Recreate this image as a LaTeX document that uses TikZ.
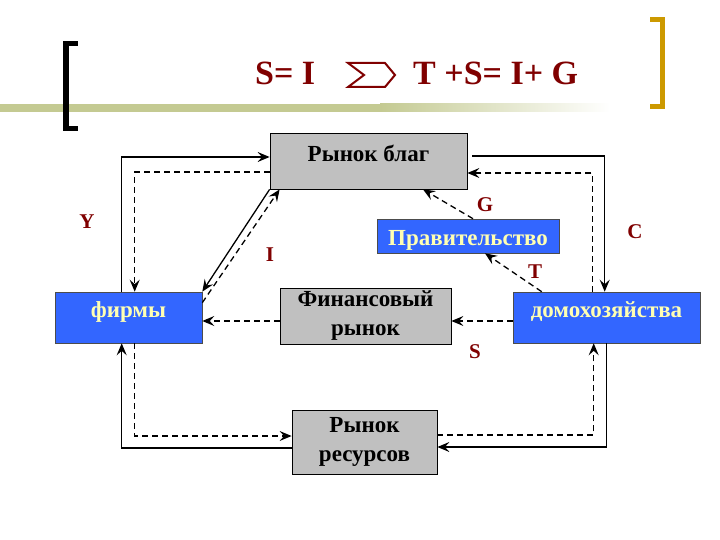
\documentclass[tikz,border=0pt]{standalone}
\usepackage{fontspec}
\setmainfont{Liberation Serif}
\usepackage{xcolor}
\usepackage{tikz}
\usetikzlibrary{arrows.meta}
\definecolor{CFBlue}{HTML}{3366FF}
\definecolor{CFGrey}{HTML}{C0C0C0}
\definecolor{CFRed}{HTML}{800000}
\definecolor{CFText}{HTML}{FFFFB3}
\definecolor{CFGold}{HTML}{CC9900}
\definecolor{CFOlive}{HTML}{C4CA92}
\tikzset{
  market/.style={draw=black,line width=.8pt,fill=CFGrey,inner sep=0pt,align=center,
    font=\fontsize{23}{29}\selectfont\bfseries},
  agent/.style={draw=black!70,line width=.6pt,fill=CFBlue,text=CFText,inner sep=0pt,
    font=\fontsize{23}{29}\selectfont\bfseries},
  real/.style={line width=1.3pt,-{Stealth[length=12pt,width=10pt,inset=4.5pt]}},
  money/.style={real,dash pattern=on 6pt off 4pt},
  flowlabel/.style={text=CFRed,font=\fontsize{21}{24}\selectfont\bfseries},
  titletext/.style={text=CFRed,inner sep=0pt,font=\fontsize{34}{36}\selectfont\bfseries}
}

\begin{document}
\begin{tikzpicture}[x=1pt,y=-1pt]
\path[use as bounding box] (0,0) rectangle (720,540);
\fill[white] (0,0) rectangle (720,540);
\fill[CFOlive] (0,104) rectangle (380,112);
\shade[left color=CFOlive,right color=white] (380,104) rectangle (610,112);
\fill[black] (63,41) rectangle (69,131);
\fill[black] (63,41) rectangle (78,46);
\fill[black] (63,126) rectangle (78,131);
\fill[CFGold] (660,17) rectangle (665,109);
\fill[CFGold] (650,17) rectangle (665,22);
\fill[CFGold] (650,104) rectangle (665,109);
\node[titletext,anchor=base west] (lhs) at (255,85) {S= I};
\draw[CFRed,line width=2pt,line join=miter] (348,63) -- (385,63) -- (395,75) -- (385,87) -- (348,87) -- (364,75) -- cycle;
\node[titletext,anchor=base west] (rhs) at (413,85) {T +S= I+ G};
\node[market,minimum width=197pt,minimum height=56pt,text height=16pt,text depth=14pt] (goods) at (368.5,161) {Рынок благ};
\node[agent,minimum width=182pt,minimum height=34pt,text height=18pt,text depth=0pt] (gov) at (468,236) {Правительство};
\node[agent,minimum width=147pt,minimum height=51pt,text height=16pt,text depth=17pt] (firm) at (128.5,317.5) {фирмы};
\node[agent,minimum width=187pt,minimum height=51pt,text height=16pt,text depth=17pt] (house) at (606.5,317.5) {домохозяйства};
\node[market,minimum width=171pt,minimum height=56pt] (fin) at (365.5,316) {Финансовый\\рынок};
\node[market,minimum width=145pt,minimum height=64pt] (res) at (364.5,442) {Рынок\\ресурсов};
\draw[real] ([xshift=67pt]firm.north west) |- ([yshift=4pt]goods.west);
\draw[money] ([yshift=-11pt]goods.west) -| ([xshift=80pt]firm.north west);
\draw[real] ([yshift=-6pt]res.west) -| ([xshift=67pt]firm.south west);
\draw[money] ([xshift=80pt]firm.south west) |- ([yshift=6pt]res.west);
\draw[real] ([xshift=5pt,yshift=5pt]goods.east) -| ([xshift=92pt]house.north west);
\draw[money] ([xshift=80pt]house.north west) |- ([yshift=-12pt]goods.east);
\draw[real] ([xshift=94pt]house.south west) |- ([yshift=-5pt]res.east);
\draw[money] ([yshift=7pt]res.east) -| ([xshift=81pt]house.south west);
\draw[real] (goods.south west) -- (firm.north east);
\draw[money] ([yshift=-11pt]firm.north east) -- ([xshift=10pt]goods.south west);
\draw[money] ([yshift=-5pt]fin.west) -- ([yshift=-5pt]fin.west -| firm.east);
\draw[money] ([yshift=-3.5pt]house.west) -- ([yshift=-3.5pt]house.west -| fin.east);
\draw[money] ([xshift=5pt]gov.north) -- ([xshift=54.5pt]goods.south);
\draw[money] ([xshift=29pt]house.north west) -- ([xshift=17pt]gov.south);
\node[flowlabel] (lblY) at (87,222) {Y};
\node[flowlabel] (lblI) at (270,255) {I};
\node[flowlabel] (lblG) at (485,205) {G};
\node[flowlabel] (lblC) at (635,232) {C};
\node[flowlabel] (lblT) at (535,272) {T};
\node[flowlabel] (lblS) at (475,352) {S};
\end{tikzpicture}
\end{document}
